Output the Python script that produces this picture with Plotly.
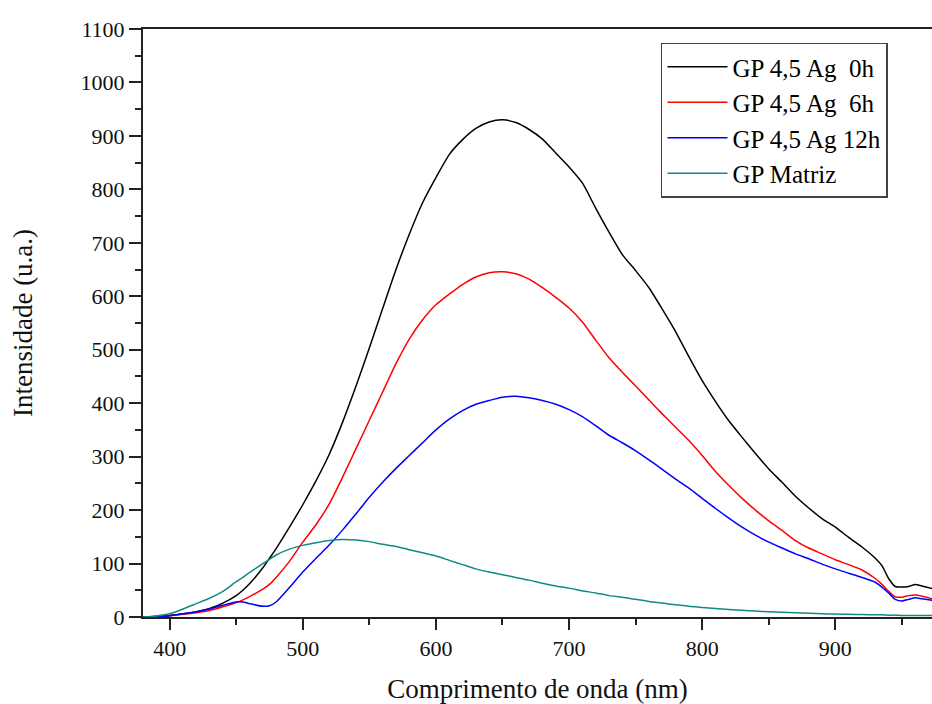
import plotly.graph_objects as go

# Wavelength grid (nm)
wavelength = [380, 390, 400, 410, 420, 430, 440, 450, 455, 460, 470, 475, 480, 490,
              500, 510, 520, 530, 540, 550, 560, 570, 580, 590, 600, 610, 620, 630,
              640, 650, 660, 670, 680, 690, 700, 710, 720, 730, 740, 750, 760, 770,
              780, 790, 800, 810, 820, 830, 840, 850, 860, 870, 880, 890, 900, 910,
              920, 930, 935, 940, 945, 950, 955, 960, 965, 973]

# GP 4,5 Ag 0h (black)
ag_0h = [0, 1, 3, 6, 10, 16, 26, 40, 50, 62, 92, 110, 128, 168,
         210, 255, 305, 365, 432, 503, 577, 650, 716, 775, 822, 865, 893, 914,
         926, 930, 925, 912, 894, 868, 842, 812, 765, 720, 678, 648, 616, 576,
         534, 487, 442, 403, 367, 336, 306, 277, 252, 226, 204, 184, 168, 149,
         131, 110, 96, 72, 57, 56, 57, 61, 58, 53]

# GP 4,5 Ag 6h (red)
ag_6h = [0, 1, 2.5, 5, 8, 12, 19, 27, 32, 38, 52, 61, 74, 104,
         140, 173, 212, 262, 315, 368, 421, 474, 520, 556, 584, 604, 622, 636,
         644, 646, 642, 632, 616, 598, 578, 552, 518, 485, 458, 432, 406, 380,
         355, 330, 302, 272, 246, 222, 200, 180, 162, 143, 129, 118, 107, 98,
         88, 72, 61, 48, 38, 37, 40, 41, 39, 34]

# GP 4,5 Ag 12h (blue)
ag_12h = [0, 1, 2.5, 6, 10, 15, 22, 28, 28, 25, 20, 21, 28, 55,
          84, 110, 135, 163, 193, 224, 252, 278, 302, 326, 350, 370, 386, 398,
          405, 411, 413, 410, 405, 398, 388, 375, 358, 340, 326, 311, 294, 276,
          258, 241, 222, 203, 185, 168, 153, 140, 129, 118, 109, 99, 90, 82,
          74, 65, 56, 45, 33, 30, 33, 36, 34, 31]

# GP Matriz (teal)
matriz = [0, 2, 6, 15, 25, 35, 48, 66, 74, 83, 100, 108, 116, 127,
          134, 139, 143, 145, 144, 141, 136, 132, 126, 120, 114, 106, 98, 90,
          84, 79, 74, 69, 63, 58, 54, 49, 45, 40, 37, 33, 29, 26,
          23, 20, 18, 16, 14, 12.5, 11, 10, 9, 8, 7, 6, 5.5, 5,
          4.5, 4, 4, 3.5, 3.5, 3, 3, 3, 3, 3]

series_names = ["GP 4,5 Ag \u00a00h", "GP 4,5 Ag \u00a06h", "GP 4,5 Ag 12h", "GP Matriz"]
series_values = [ag_0h, ag_6h, ag_12h, matriz]
series_colors = ["#000000", "#ff0000", "#0000ff", "#128a84"]

x_ticks = [400, 500, 600, 700, 800, 900]
y_ticks = list(range(0, 1101, 100))

FONT = "Liberation Serif, Times New Roman, serif"

fig = go.Figure()
for name, vals, col in zip(series_names, series_values, series_colors):
    fig.add_trace(go.Scatter(x=wavelength, y=vals, mode="lines", name=name,
                             line=dict(color=col, width=1.5, shape="spline", smoothing=0.6)))

fig.update_layout(
    width=932, height=704,
    margin=dict(l=143, r=0, t=29, b=87),
    paper_bgcolor="white", plot_bgcolor="white",
    font=dict(family=FONT, size=22, color="#111111"),
    showlegend=True,
    legend=dict(x=0.6565, y=0.977, xanchor="left", yanchor="top",
                bgcolor="white", bordercolor="#444444", borderwidth=1.5,
                font=dict(family=FONT, size=25, color="#000000"),
                itemwidth=60, tracegroupgap=0),
)

fig.update_xaxes(
    range=[380, 972.6], tickvals=x_ticks, ticks="outside", ticklen=11, tickwidth=2,
    tickcolor="#222222", showline=True, linewidth=2, linecolor="#222222", mirror=True,
    showgrid=False, zeroline=False,
    tickfont=dict(family=FONT, size=22, color="#111111"),
    minor=dict(ticks="outside", ticklen=6, tickwidth=2, tickcolor="#222222", dtick=50, showgrid=False),
    title=dict(text="Comprimento de onda (nm)", font=dict(family=FONT, size=27, color="#111111"), standoff=22),
)
fig.update_yaxes(
    range=[0, 1100], tickvals=y_ticks, ticks="outside", ticklen=12, tickwidth=2,
    tickcolor="#222222", showline=True, linewidth=2, linecolor="#222222", mirror=False,
    showgrid=False, zeroline=False,
    tickfont=dict(family=FONT, size=22, color="#111111"),
    minor=dict(ticks="outside", ticklen=6, tickwidth=2, tickcolor="#222222", dtick=50, showgrid=False),
    title=dict(text="Intensidade (u.a.)", font=dict(family=FONT, size=27, color="#111111"), standoff=40),
)

fig.write_html("out.html")
